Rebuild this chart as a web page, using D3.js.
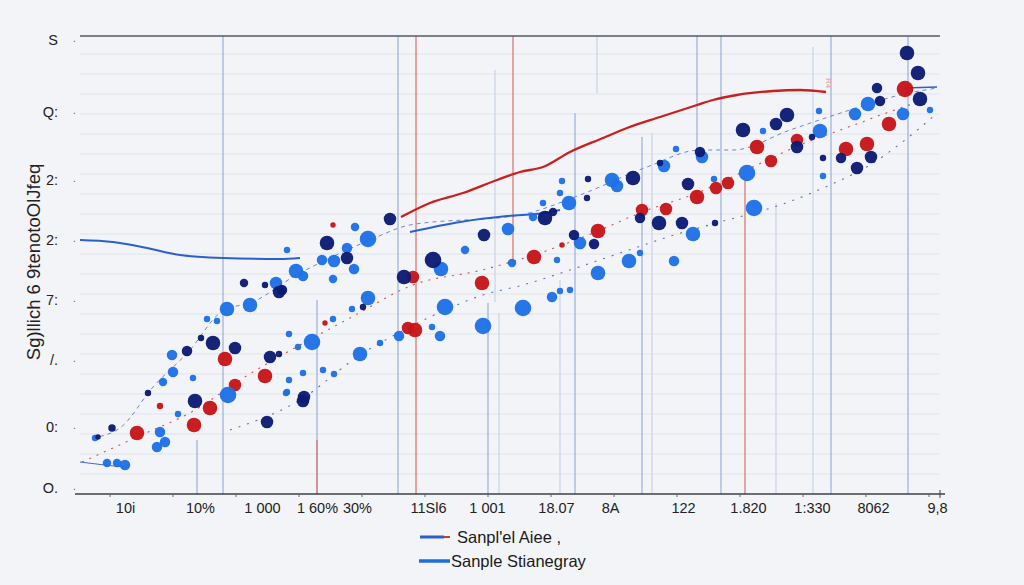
<!DOCTYPE html>
<html><head><meta charset="utf-8">
<script src="https://cdn.jsdelivr.net/npm/d3@7"></script>
<style>
html,body{margin:0;padding:0;background:#f3f4f8;}
svg{display:block;font-family:"Liberation Sans",Arial,sans-serif;}
</style></head>
<body><svg id="chart" width="1024" height="585"></svg>
<script>
// ---------------- data ----------------
const xTickValues = [4.5,12.0,18.2,23.7,27.7,34.8,40.7,47.6,53.0,60.3,66.8,73.2,79.3,85.7];
const xTickLabels = ["10i","10%","1 000","1 60%","30%","11Sl6","1 001","18.07","8A","122","1.820","1:330","8062","9,8"];
const yTickValues = [22.7,19.1,15.7,12.7,9.7,6.7,3.35,0.3];
const yTickLabels = ["S","Q:","2:","2:","7:","/.","0:","O."];
const yTitle = "Sg)llich 6 9tenotoOlJfeq";
const legendLabels = ["Sanpl'el Aiee ,","Sanple Stianegray"];

// points: [x, y, magnitude]
const navyPoints = [[1.8,2.85,2.5],[3.2,3.3,3.5],[11.5,4.65,7],[18.7,3.6,6],[22.3,4.65,6],[6.8,5.05,3],[13.3,7.55,7],[15.5,7.3,6],[10.7,7.15,5],[12.1,7.8,3],[19.0,6.85,6],[19.9,7.0,3],[16.4,10.55,4],[18.5,10.45,3],[19.9,10.1,6],[24.7,12.55,7],[26.7,11.8,6],[22.4,4.85,6],[20.2,10.2,5],[31.0,13.75,6],[35.3,11.7,8],[32.4,10.85,7],[40.4,12.95,6],[46.5,13.8,7],[28.3,9.35,3],[70.7,18.95,7],[69.6,18.5,6],[66.3,18.2,7],[71.7,17.35,6],[62.0,17.1,5],[58.0,16.55,3],[55.3,15.8,7],[50.8,15.75,3],[47.3,14.1,4],[50.7,14.8,3],[60.8,15.5,6],[56.0,13.8,5],[57.9,13.55,7],[60.2,13.55,6],[49.4,12.95,5],[51.4,12.5,5],[63.5,13.55,3],[82.7,22.05,7],[83.8,21.05,7],[79.7,20.3,5],[84.0,19.75,7],[80.0,19.65,5],[73.2,17.85,3],[79.1,16.85,6],[76.1,16.8,5],[77.7,16.3,6],[74.3,16.8,3]];
const bluePoints = [[8.3,5.6,4],[14.8,4.95,8],[9.8,4.0,3],[8.0,3.1,5],[8.5,2.6,5],[7.7,2.35,5],[1.5,2.8,3],[2.7,1.55,4],[3.7,1.55,4],[4.5,1.45,5],[20.7,5.1,3],[14.7,9.25,7],[17.0,9.45,7],[23.2,7.6,8],[9.2,6.95,5],[9.3,6.1,5],[11.3,5.8,3],[12.7,8.75,3],[13.7,8.65,3],[19.6,10.55,6],[21.6,11.15,7],[22.3,10.9,5],[20.7,12.2,3],[24.2,11.7,5],[25.4,11.65,6],[26.7,12.3,5],[27.4,11.25,5],[25.3,10.75,4],[27.5,13.35,4],[27.2,9.25,3],[25.3,8.75,3],[20.9,8.0,3],[21.8,7.35,3],[20.9,5.7,3],[22.3,6.05,3],[20.6,5.05,3],[25.4,6.0,3],[28.8,12.75,8],[36.1,11.25,7],[38.5,12.2,4],[42.8,13.25,6],[46.3,14.55,3],[45.3,13.85,4],[43.2,11.55,4],[28.8,9.8,7],[36.5,9.35,8],[35.2,8.35,3],[36.0,7.9,5],[31.9,7.9,5],[40.3,8.4,8],[44.3,9.3,8],[47.2,9.85,5],[28.0,7.0,7],[24.3,6.2,3],[68.3,18.15,3],[66.7,16.05,8],[62.2,16.85,6],[59.6,17.25,3],[58.4,16.4,6],[53.2,15.7,7],[53.7,15.4,6],[48.2,15.65,3],[48.0,15.05,3],[48.9,14.55,7],[67.4,14.3,8],[61.3,13.0,7],[50.0,12.55,6],[47.7,11.7,3],[54.9,11.65,7],[59.4,11.65,5],[51.8,11.05,7],[56.0,12.05,3],[63.4,15.75,3],[78.8,19.5,7],[77.5,19.0,6],[82.3,19.0,6],[74.0,18.15,7],[73.9,19.15,3],[74.3,15.9,3],[85.0,19.2,3],[48.0,10.15,3],[49.0,10.2,3],[30.0,7.55,3]];
const redPoints = [[5.7,3.05,7],[11.4,3.45,7],[13.0,4.3,7],[15.5,5.45,6],[14.5,6.75,7],[18.5,5.9,7],[8.0,4.4,3],[25.3,13.45,2.5],[24.5,8.55,2.5],[33.3,10.85,6],[45.4,11.85,7],[40.2,10.55,7],[32.8,8.3,6],[33.5,8.2,7],[71.7,17.7,6],[67.7,17.35,7],[69.1,16.65,6],[63.6,15.3,6],[64.8,15.55,6],[61.7,14.85,7],[58.6,14.25,6],[56.2,14.2,6],[51.8,13.15,7],[48.2,12.45,2.5],[82.5,20.25,8],[80.9,18.5,7],[76.6,17.25,7],[78.7,17.5,7]];

// solid curves
const redCurve = [[32.1,13.85],[35.0,14.55],[38.3,15.05],[41.7,15.7],[44.0,16.1],[46.3,16.35],[49.0,17.1],[52.3,17.8],[54.7,18.3],[58.0,18.85],[61.7,19.45],[63.3,19.7],[65.7,19.95],[69.3,20.15],[72.0,20.2],[74.6,20.1]];
const blueCurveA = [[0,12.7],[3.3,12.6],[6.7,12.3],[10.0,11.95],[14.3,11.8],[20.0,11.75],[22.0,11.8]];
const blueCurveB = [[33.0,13.1],[38.0,13.6],[42.7,13.9],[46.5,14.05],[48.0,14.2]];
const blueCurveC = [[82.5,20.3],[85.7,20.35]];
const blueCurveD = [[0,1.6],[2.5,1.45],[4.7,1.35]];
// dashed trend lines
const trendUpper = [[1.2,2.8],[4.0,3.3],[7.3,5.35],[11.0,7.2],[14.0,9.05],[17.7,9.7],[21.3,10.85],[25.0,11.8],[29.0,12.7],[33.0,13.45],[44.0,13.95],[50.0,14.95],[56.7,16.35],[62.0,17.2],[65.3,17.2],[71.0,18.2],[77.0,19.2],[82.0,19.95],[85.7,20.3]];
const trendMiddle = [[0.2,1.6],[5.7,2.85],[11.5,4.2],[16.0,5.7],[22.0,7.45],[27.0,8.8],[33.3,10.45],[40.2,11.2],[45.4,11.95],[51.8,13.15],[56.2,14.1],[61.7,15.05],[67.7,16.45],[72.0,17.45],[76.6,18.3],[80.9,19.1],[85.0,19.8]];
const trendLower = [[15.0,3.2],[22.0,4.7],[28.0,6.95],[32.8,8.3],[36.5,9.2],[40.3,9.95],[44.3,10.45],[49.0,11.2],[54.9,12.2],[59.4,12.95],[64.0,13.6],[70.0,14.45],[75.0,15.45],[79.0,16.45],[82.5,17.7],[85.5,18.95]];

// vertical reference lines: [x, yTop, yBottom, group]
const refLines = [[14.3,22.9,0,"A"],[11.7,2.7,0,"A"],[23.7,9.7,0,"A"],[23.7,2.7,0,"B"],[31.8,22.9,0,"A"],[33.6,22.9,0,"B"],[41.5,21.2,9.6,"C"],[43.3,22.9,11.55,"B"],[40.8,9.55,0,"A"],[41.9,9.05,0,"C"],[48.0,10.7,0,"C"],[49.5,19.05,0,"A"],[51.7,22.9,20.05,"C"],[56.2,17.85,0,"A"],[57.2,18.05,0,"C"],[61.7,22.9,17.2,"A"],[64.1,22.9,0,"A"],[66.5,15.85,0,"B"],[69.6,14.55,0,"C"],[73.3,22.35,0,"C"],[75.1,22.9,0,"A"],[82.8,22.9,0,"A"]];

// ---------------- drawing ----------------
const svg = d3.select("#chart");
const x = d3.scaleLinear().domain([0,86]).range([80,940]);
const y = d3.scaleLinear().domain([0,22.9]).range([494,36]);
const r = d3.scaleLinear().domain([2,8]).range([2.2,8.3]);
const col = {navy:"#0b1a72", blue:"#1d70e6", red:"#c61519"};
const refCol = {A:"#9aaedb", B:"#d9706c", C:"#c9d2e6"};

// gridlines
svg.append("g").selectAll("line").data(d3.range(1,23)).join("line")
  .attr("x1",x(0)).attr("x2",x(86)).attr("y1",d=>y(d)).attr("y2",d=>y(d))
  .attr("stroke","#e0e3ea").attr("stroke-width",1);

// reference lines
svg.append("g").selectAll("line").data(refLines).join("line")
  .attr("x1",d=>x(d[0])).attr("x2",d=>x(d[0]))
  .attr("y1",d=>y(d[1])).attr("y2",d=>y(d[2]))
  .attr("stroke",d=>refCol[d[3]]).attr("stroke-width",1.2);

// top rule
svg.append("line").attr("x1",x(0)).attr("x2",x(86)).attr("y1",y(22.9)).attr("y2",y(22.9))
  .attr("stroke","#555a63").attr("stroke-width",1.5);

// axes
const xAxis = d3.axisBottom(x).tickValues(xTickValues).tickFormat((d,i)=>xTickLabels[i]).tickSize(0).tickPadding(9);
const gx = svg.append("g").attr("transform",`translate(0,${y(0)})`).call(xAxis);
gx.select(".domain").remove();
gx.selectAll("text").attr("font-size",14.5).attr("fill","#222").attr("font-family","Liberation Sans, Arial, sans-serif");
svg.append("line").attr("x1",x(-0.5)).attr("x2",x(86.5)).attr("y1",y(0)).attr("y2",y(0)).attr("stroke","#3d4048").attr("stroke-width",1.3);
svg.append("g").selectAll("line").data(d3.range(0,87,6.3)).join("line")
  .attr("x1",d=>x(d+3)).attr("x2",d=>x(d+3)).attr("y1",y(0)).attr("y2",y(0)+3)
  .attr("stroke","#666").attr("stroke-width",1);
svg.append("line").attr("x1",x(86)).attr("x2",x(86)).attr("y1",y(0)-4).attr("y2",y(0)+4).attr("stroke","#444");

const yAxis = d3.axisLeft(y).tickValues(yTickValues).tickFormat((d,i)=>yTickLabels[i]).tickSize(0).tickPadding(6);
const gy = svg.append("g").attr("transform","translate(64,0)").call(yAxis);
gy.select(".domain").remove();
gy.selectAll("text").attr("font-size",14.5).attr("fill","#222").attr("font-family","Liberation Sans, Arial, sans-serif");
svg.append("g").selectAll("text").data(yTickValues).join("text")
  .attr("x",73).attr("y",d=>y(d)).attr("dy","0.2em").attr("font-size",10).attr("fill","#555").text(".");

svg.append("text").attr("transform",`translate(40,${y(11.6)}) rotate(-90)`)
  .attr("text-anchor","middle").attr("font-size",18.5).attr("fill","#222").text(yTitle);

// lines
const line = d3.line().x(d=>x(d[0])).y(d=>y(d[1])).curve(d3.curveMonotoneX);
const gl = svg.append("g").attr("fill","none");
gl.append("path").attr("d",line(trendUpper)).attr("stroke","#7186c6").attr("stroke-width",1).attr("stroke-dasharray","4,4");
gl.append("path").attr("d",line(trendMiddle)).attr("stroke","#d05050").attr("stroke-width",1.1).attr("stroke-dasharray","2,6");
gl.append("path").attr("d",line(trendLower)).attr("stroke","#5a6fb8").attr("stroke-width",1.1).attr("stroke-dasharray","2,7");
gl.append("path").attr("d",line(blueCurveA)).attr("stroke","#2a5fcc").attr("stroke-width",2);
gl.append("path").attr("d",line(blueCurveB)).attr("stroke","#2a5fcc").attr("stroke-width",2);
gl.append("path").attr("d",line(blueCurveC)).attr("stroke","#2a5fcc").attr("stroke-width",1.6);
gl.append("path").attr("d",line(blueCurveD)).attr("stroke","#4d6bc4").attr("stroke-width",1.2);
gl.append("path").attr("d",line(redCurve)).attr("stroke","#c8201e").attr("stroke-width",2.3);

// points
function drawPts(data,c){
  svg.append("g").selectAll("circle").data(data).join("circle")
    .attr("cx",d=>x(d[0])).attr("cy",d=>y(d[1])).attr("r",d=>r(d[2]))
    .attr("fill",c).attr("opacity",0.96);
}
drawPts(redPoints,col.red);
drawPts(bluePoints,col.blue);
drawPts(navyPoints,col.navy);

svg.append("text").attr("transform",`translate(${x(74.6)},${y(20.8)}) rotate(90)`)
  .attr("font-size",8).attr("fill","#e69a80").text("R4");

// legend
const lg = svg.append("g");
lg.append("line").attr("x1",420).attr("x2",444).attr("y1",537).attr("y2",537).attr("stroke","#2a5fcc").attr("stroke-width",3);
lg.append("line").attr("x1",444).attr("x2",450).attr("y1",537).attr("y2",537).attr("stroke","#d03a20").attr("stroke-width",2);
lg.append("text").attr("x",457).attr("y",537).attr("dy","0.35em").attr("font-size",16.5).attr("fill","#1a1a1a").text(legendLabels[0]);
lg.append("line").attr("x1",419).attr("x2",450).attr("y1",561).attr("y2",561).attr("stroke","#1d6fe0").attr("stroke-width",3.5);
lg.append("text").attr("x",451).attr("y",561).attr("dy","0.35em").attr("font-size",16.5).attr("fill","#1a1a1a").text(legendLabels[1]);
</script></body></html>
